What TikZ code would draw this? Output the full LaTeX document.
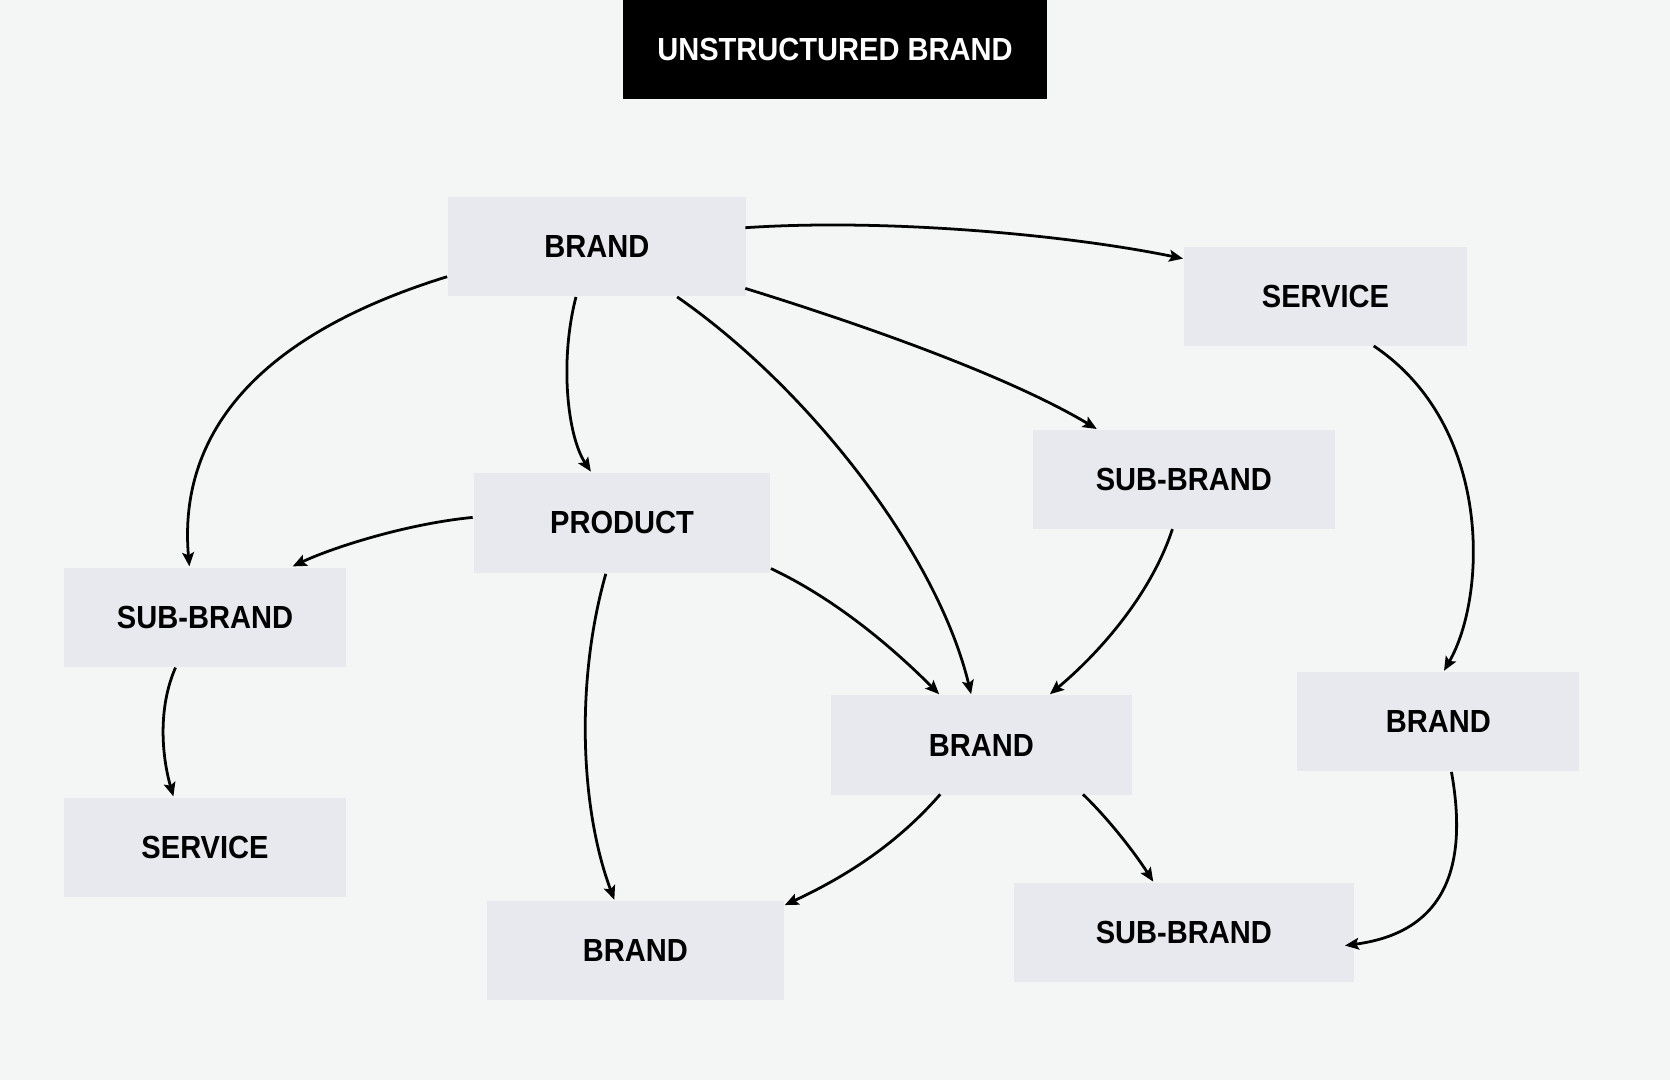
\documentclass[tikz,border=0pt]{standalone}
\usepackage{fontspec}
\setmainfont{Liberation Sans}[FakeStretch=0.91]
\usetikzlibrary{arrows.meta,calc}
\definecolor{bgc}{HTML}{F4F6F5}
\definecolor{boxc}{HTML}{E8E9EE}
\tikzset{
  box/.style={rectangle,fill=boxc,inner sep=0pt,font=\fontsize{30}{34}\selectfont\bfseries,text=black},
  titlebox/.style={rectangle,fill=black,inner sep=0pt,font=\fontsize{30}{34}\selectfont\bfseries,text=white},
  arr/.style={line width=2.6pt,-{Stealth[length=13pt,width=11pt,inset=2.5pt]}}
}
\newcommand{\boxat}[7]{\node[#1,minimum width=#4pt,minimum height=#5pt] (#2) at ({#3+#4/2},{#6+#5/2}) {\raisebox{-2pt}{#7}};}
\begin{document}
\begin{tikzpicture}[x=1pt,y=-1pt]
\fill[bgc] (0,0) rectangle (1568,1014);
\useasboundingbox (0,0) rectangle (1568,1014);
% boxes: style, name, left, width, height, top, text
\boxat{titlebox}{title}{585}{398}{93}{0}{UNSTRUCTURED BRAND}
\boxat{box}{b1}{421}{279}{93}{185}{BRAND}
\boxat{box}{sv1}{1112}{265}{93}{232}{SERVICE}
\boxat{box}{sb1}{970}{283}{93}{404}{SUB-BRAND}
\boxat{box}{pr}{445}{278}{94}{444}{PRODUCT}
\boxat{box}{sbL}{60}{265}{93}{533}{SUB-BRAND}
\boxat{box}{bR}{1218}{265}{93}{631}{BRAND}
\boxat{box}{bC}{780}{283}{93}{653}{BRAND}
\boxat{box}{svL}{60}{265}{93}{749}{SERVICE}
\boxat{box}{bB}{457}{279}{93}{846}{BRAND}
\boxat{box}{sbB}{952}{319}{93}{829}{SUB-BRAND}
% connectors
\draw[arr] ($(b1.north west)+(279,29)$) .. controls (830,205) and (1000,220) .. ($(sv1.north west)+(-1,11)$);
\draw[arr] ($(b1.north west)+(279,86)$) .. controls (820,308) and (950,355) .. ($(sb1.north west)+(60,-1)$);
\draw[arr] ($(b1.north west)+(215,94)$) .. controls (760,365) and (880,520) .. ($(bC.north west)+(132,-1)$);
\draw[arr] ($(b1.north west)+(120,94)$) .. controls (525,340) and (533,410) .. ($(pr.north west)+(110,-1)$);
\draw[arr] ($(b1.north west)+(-1,75)$) .. controls (225,320) and (168,420) .. ($(sbL.north west)+(118,-1)$);
\draw[arr] ($(pr.north west)+(-1,42)$) .. controls (380,492) and (310,515) .. ($(sbL.north west)+(215,-1)$);
\draw[arr] ($(pr.north west)+(279,90)$) .. controls (790,565) and (845,615) .. ($(bC.north west)+(102,-1)$);
\draw[arr] ($(pr.north west)+(124,95)$) .. controls (540,640) and (545,760) .. ($(bB.north west)+(120,-1)$);
\draw[arr] ($(sb1.north west)+(131,93)$) .. controls (1080,560) and (1030,615) .. ($(bC.north west)+(206,-1)$);
\draw[arr] ($(sv1.north west)+(178,93)$) .. controls (1402,400) and (1396,560) .. ($(bR.north west)+(138,-1)$);
\draw[arr] ($(sbL.north west)+(105,94)$) .. controls (148,665) and (152,710) .. ($(svL.north west)+(103,-1)$);
\draw[arr] ($(bC.north west)+(103,93)$) .. controls (840,795) and (790,825) .. ($(bB.north west)+(280,4)$);
\draw[arr] ($(bC.north west)+(237,93)$) .. controls (1040,768) and (1065,800) .. ($(sbB.north west)+(131,-1)$);
\draw[arr] ($(bR.north west)+(145,94)$) .. controls (1378,810) and (1360,875) .. ($(sbB.north west)+(311,59)$);
\end{tikzpicture}
\end{document}
